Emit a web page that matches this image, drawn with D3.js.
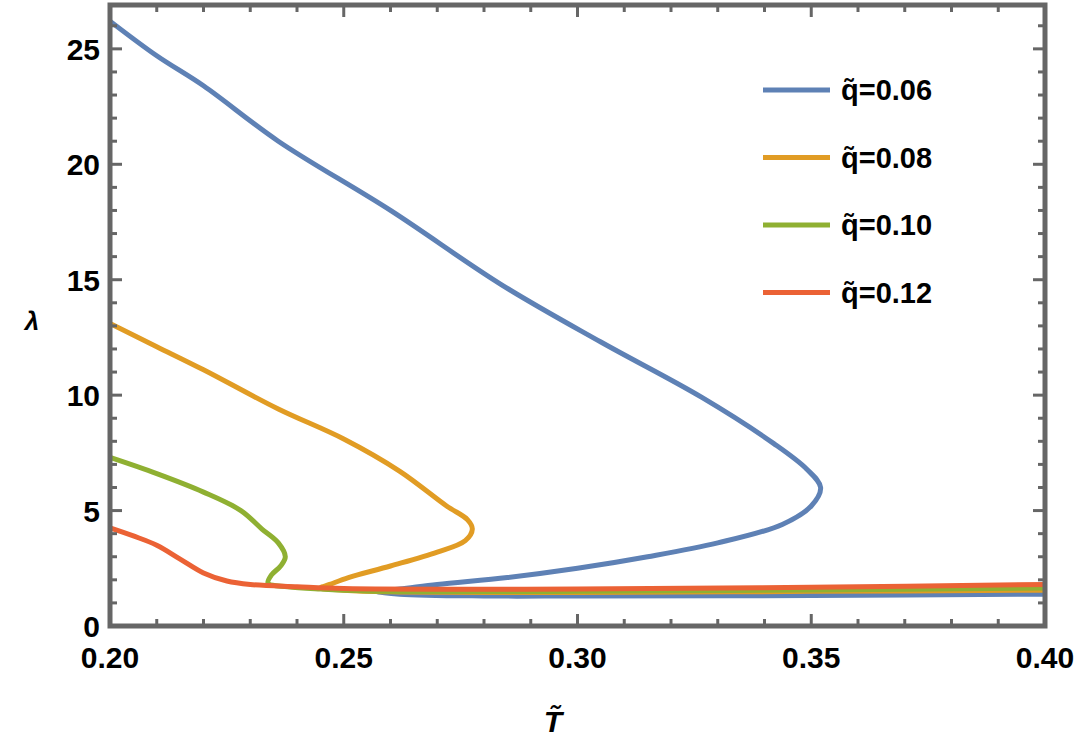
<!DOCTYPE html>
<html lang='en'>
  <head>
    <style type='text/css'>
      body {margin: 0; background-color: #fff;}
      svg text {font-family: "Liberation Sans", Arial, sans-serif; font-weight: bold;}
    </style>
  </head>
  <body>
    <svg id='chart' width='1080' height='748'></svg>
    <script src='https://d3js.org/d3.v7.min.js'></script>
    <script type='text/javascript'>
        // series labels and colours
        var labels = ["0.06", "0.08", "0.10", "0.12"];
        var colors = ["#5E81B5", "#E19C24", "#8FB032", "#EB6235"];

        // [T, lambda] points, in path order
        var q006 = [[0.20,26.2],[0.21,24.7],[0.22,23.4],[0.236,21.0],[0.26,18.0],[0.2836,14.8],[0.305,12.3],[0.3266,9.9],[0.342,7.9],[0.349,6.8],[0.352,6.0],[0.350,5.2],[0.3438,4.4],[0.33,3.6],[0.315,3.0],[0.30,2.5],[0.285,2.1],[0.27,1.8],[0.262,1.6],[0.257,1.5],[0.262,1.38],[0.28,1.3],[0.30,1.3],[0.35,1.32],[0.40,1.38]];
        var q008 = [[0.20,13.1],[0.21,12.1],[0.22,11.1],[0.236,9.4],[0.25,8.1],[0.262,6.7],[0.272,5.2],[0.2765,4.6],[0.2775,4.2],[0.276,3.7],[0.27,3.2],[0.26,2.6],[0.251,2.1],[0.247,1.8],[0.245,1.65],[0.25,1.55],[0.26,1.48],[0.30,1.45],[0.35,1.5],[0.40,1.55]];
        var q010 = [[0.20,7.3],[0.21,6.6],[0.22,5.8],[0.228,5.0],[0.2325,4.2],[0.236,3.6],[0.2375,3.0],[0.2365,2.6],[0.2345,2.2],[0.2338,1.85],[0.238,1.7],[0.245,1.6],[0.255,1.52],[0.30,1.5],[0.35,1.56],[0.40,1.65]];
        var q012 = [[0.20,4.25],[0.205,3.9],[0.21,3.5],[0.215,2.9],[0.22,2.3],[0.225,1.95],[0.23,1.8],[0.24,1.7],[0.25,1.62],[0.30,1.6],[0.35,1.68],[0.40,1.8]];
        var series = [q006, q008, q010, q012];

        var xTicks = [0.20, 0.25, 0.30, 0.35, 0.40];
        var yTicks = [0, 5, 10, 15, 20, 25];

        var svg = d3.select("#chart");
        var pLeft = 110, pRight = 1045, pTop = 5, pBottom = 626;

        var x = d3.scaleLinear().domain([0.20, 0.40]).range([pLeft, pRight]);
        var y = d3.scaleLinear().domain([0, 26.9]).range([pBottom, pTop]);

        svg.append("clipPath").attr("id", "clip").append("rect")
            .attr("x", pLeft).attr("y", pTop).attr("width", pRight - pLeft).attr("height", pBottom - pTop);

        var line = d3.line()
            .x(function(d) { return x(d[0]); })
            .y(function(d) { return y(d[1]); })
            .curve(d3.curveCatmullRom.alpha(0.5));

        svg.selectAll(".curve")
          .data(series)
          .enter().append("path")
            .attr("class", "curve")
            .attr("clip-path", "url(#clip)")
            .attr("d", line)
            .attr("fill", "none")
            .attr("stroke", function(d, i) { return colors[i]; })
            .attr("stroke-width", 5)
            .attr("stroke-linejoin", "round");

        // frame with inward ticks on all sides
        var frameColor = "#666";
        var minorX = d3.range(0.20, 0.4001, 0.01);
        var minorY = d3.range(0, 27, 1);
        function tickLen(v, majors) {
          return majors.some(function(m) { return Math.abs(m - v) < 1e-6; }) ? 12 : 7;
        }
        var ticks = svg.append("g").attr("stroke", frameColor).attr("stroke-width", 3);
        minorX.forEach(function(v) {
          var L = tickLen(v, xTicks);
          ticks.append("line").attr("x1", x(v)).attr("x2", x(v)).attr("y1", pBottom).attr("y2", pBottom - L);
          ticks.append("line").attr("x1", x(v)).attr("x2", x(v)).attr("y1", pTop).attr("y2", pTop + L);
        });
        minorY.forEach(function(v) {
          var L = tickLen(v, yTicks);
          ticks.append("line").attr("y1", y(v)).attr("y2", y(v)).attr("x1", pLeft).attr("x2", pLeft + L);
          ticks.append("line").attr("y1", y(v)).attr("y2", y(v)).attr("x1", pRight).attr("x2", pRight - L);
        });
        svg.append("rect")
            .attr("x", pLeft).attr("y", pTop).attr("width", pRight - pLeft).attr("height", pBottom - pTop)
            .attr("fill", "none").attr("stroke", frameColor).attr("stroke-width", 5);

        svg.selectAll(".xlab").data(xTicks).enter().append("text")
            .attr("x", function(d) { return x(d); }).attr("y", pBottom + 42)
            .attr("text-anchor", "middle").attr("font-size", 30)
            .text(function(d) { return d.toFixed(2); });
        svg.selectAll(".ylab").data(yTicks).enter().append("text")
            .attr("x", pLeft - 10).attr("y", function(d) { return y(d) + 11; })
            .attr("text-anchor", "end").attr("font-size", 30)
            .text(function(d) { return d; });

        svg.append("text").attr("x", 553).attr("y", 732).attr("text-anchor", "middle")
            .attr("font-size", 30).attr("font-style", "italic").text("T\u0303");
        svg.append("text").attr("x", 32).attr("y", 330).attr("text-anchor", "middle")
            .attr("font-size", 26).attr("font-style", "italic").text("\u03bb");

        // legend
        var legend = svg.selectAll(".leg").data(labels).enter().append("g")
            .attr("transform", function(d, i) { return "translate(763," + (90 + i * 67.5) + ")"; });
        legend.append("line").attr("x1", 0).attr("x2", 67).attr("y1", 0).attr("y2", 0)
            .attr("stroke", function(d, i) { return colors[i]; }).attr("stroke-width", 5);
        legend.append("text").attr("x", 78).attr("y", 10).attr("font-size", 29)
            .text(function(d) { return "q\u0303=" + d; });
    </script>
  </body>
</html>
